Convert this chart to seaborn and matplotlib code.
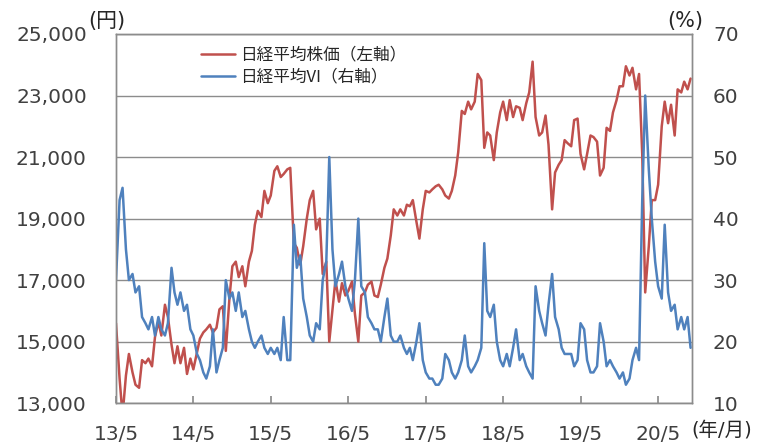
import matplotlib
matplotlib.use("Agg")
import matplotlib.pyplot as plt
import seaborn as sns
import pandas as pd
from matplotlib.ticker import FuncFormatter

# semi-monthly readings (1st / 15th), 2013/5/15 - 2020/10/15
nikkei = [
    15600, 13800, 12600, 13900, 14600, 14000, 13600, 13500, 14400, 14300, 14450, 14200, 15150, 15650, 15200,  # 2013
    16200, 15800, 14900, 14300, 14850, 14300, 14800, 13950, 14450, 14100, 14650, 15100,
    15300, 15400, 15550, 15300, 15450, 16050, 16150, 14700, 16400, 17450, 17600, 17100,  # 2014
    17450, 16800, 17600, 17950, 18800, 19250, 19050, 19900, 19500, 19750, 20550, 20700,
    20350, 20450, 20600, 20650, 18200, 18050, 17500, 18100, 19000, 19600, 19900, 18650,  # 2015
    19000, 17200, 17600, 15000, 16050, 17000, 16300, 16900, 16500, 16650, 16950, 15900,
    15000, 16500, 16600, 16850, 16950, 16500, 16450, 16850, 17400, 17700, 18450, 19300,  # 2016
    19100, 19300, 19100, 19450, 19400, 19600, 18900, 18350, 19300, 19900, 19850, 19950,
    20050, 20100, 19950, 19750, 19650, 19900, 20400, 21150, 22500, 22400, 22800, 22550,  # 2017
    22800, 23700, 23500, 21300, 21800, 21700, 20900, 21800, 22450, 22800, 22200, 22850,
    22300, 22650, 22600, 22200, 22750, 23100, 24100, 22300, 21700, 21800, 22350, 21400,  # 2018
    19300, 20500, 20750, 20900, 21550, 21450, 21350, 22200, 22250, 21100, 20600, 21100,
    21700, 21650, 21500, 20400, 20650, 21950, 21850, 22450, 22850, 23300, 23300, 23950,  # 2019
    23650, 23900, 23200, 23700, 21100, 16600, 18100, 19600, 19600, 20100, 22000, 22800,
    22100, 22700, 21700, 23200, 23100, 23450, 23200, 23550,  # 2020
]

nikkei_vi = [
    30, 43, 45, 35, 30, 31, 28, 29, 24, 23, 22, 24, 21, 24, 22,  # 2013
    21, 23, 32, 28, 26, 28, 25, 26, 22, 21, 18, 17, 15, 14, 16, 22, 15, 17, 19, 30, 27, 28, 25, 28,  # 2014
    24, 25, 22, 20, 19, 20, 21, 19, 18, 19, 18, 19, 17, 24, 17, 17, 39, 32, 34, 27, 24, 21, 20, 23,  # 2015
    22, 30, 33, 50, 35, 29, 31, 33, 29, 27, 25, 30, 40, 29, 28, 24, 23, 22, 22, 20, 24, 27, 21, 20,  # 2016
    20, 21, 19, 18, 19, 17, 20, 23, 17, 15, 14, 14, 13, 13, 14, 18, 17, 15, 14, 15, 17, 21, 16, 15,  # 2017
    16, 17, 19, 36, 25, 24, 26, 20, 17, 16, 18, 16, 19, 22, 17, 18, 16, 15, 14, 29, 25, 23, 21, 26,  # 2018
    31, 24, 22, 19, 18, 18, 18, 16, 17, 23, 22, 17, 15, 15, 16, 23, 20, 16, 17, 16, 15, 14, 15, 13,  # 2019
    14, 17, 19, 17, 43, 60, 48, 40, 33, 29, 27, 39, 28, 25, 26, 22, 24, 22, 24, 19,  # 2020
]

tick_years = [2013, 2014, 2015, 2016, 2017, 2018, 2019, 2020]
tick_labels = ["13/5", "14/5", "15/5", "16/5", "17/5", "18/5", "19/5", "20/5"]

RED = "#C0504D"
BLUE = "#4F81BD"
GRID = "#8c8c8c"
TXT = "#404040"

dates = pd.date_range("2013-05-15", "2020-10-15", freq="SMS")
df = pd.DataFrame({"date": dates, "nikkei": nikkei, "vi": nikkei_vi})

sns.set_theme(style="white")
plt.rcParams['font.family'] = ['DejaVu Sans', 'Noto Sans CJK JP']

fig, ax = plt.subplots(figsize=(7.58, 4.47), dpi=100)
fig.subplots_adjust(left=0.153, right=0.913, top=0.924, bottom=0.098)
ax2 = ax.twinx()

sns.lineplot(data=df, x="date", y="nikkei", ax=ax, color=RED, lw=1.8, label="日経平均株価（左軸）")
sns.lineplot(data=df, x="date", y="vi", ax=ax2, color=BLUE, lw=1.8, label="日経平均VI（右軸）")

ax.set_ylim(13000, 25000)
ax.set_yticks(range(13000, 25001, 2000))
ax.yaxis.set_major_formatter(FuncFormatter(lambda v, p: f"{v:,.0f}"))
ax2.set_ylim(10, 70)
ax2.set_yticks(range(10, 71, 10))

ax.set_xlim(dates[0], dates[-1] + pd.Timedelta(days=7))
ax.set_xticks([pd.Timestamp(f"{y}-05-15") for y in tick_years])
ax.set_xticklabels(tick_labels)

ax.set_xlabel("")
ax.set_ylabel("")
ax2.set_ylabel("")

ax.grid(axis="y", color=GRID, lw=1)
ax2.grid(False)
for a in (ax, ax2):
    for s in a.spines.values():
        s.set_color(GRID)
        s.set_linewidth(1)

ax.tick_params(axis="y", length=0, pad=21, labelsize=14.5, labelcolor=TXT)
ax2.tick_params(axis="y", length=0, pad=15, labelsize=14.5, labelcolor=TXT)
ax.tick_params(axis="x", bottom=True, direction="in", length=5, color=GRID,
               pad=16, labelsize=14.5, labelcolor=TXT)

h1, l1 = ax.get_legend_handles_labels()
h2, l2 = ax2.get_legend_handles_labels()
ax.get_legend().remove()
ax2.get_legend().remove()
ax2.legend(h1 + h2, l1 + l2, loc="upper left", bbox_to_anchor=(0.148, 0.965),
           frameon=False, prop={"family": ["Noto Sans CJK JP"], "size": 12},
           handlelength=2.0, handletextpad=0.3, labelspacing=0.3,
           borderpad=0, borderaxespad=0)

fig.text(88 / 758, 1 - 21 / 447, "(円)", ha="left", va="center", fontsize=15,
         color="#262626", family=["DejaVu Sans", "Noto Sans CJK JP"])
fig.text(667 / 758, 1 - 21 / 447, "(%)", ha="left", va="center", fontsize=15,
         color="#262626")
fig.text(691 / 758, 1 - 430 / 447, "(年/月)", ha="left", va="center", fontsize=14,
         color="#262626", family=["DejaVu Sans", "Noto Sans CJK JP"])

fig.savefig("out.png", dpi=100)
